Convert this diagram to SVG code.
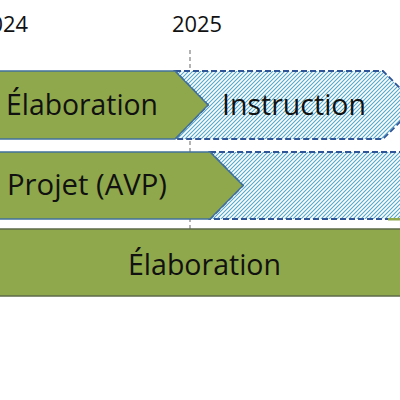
<svg xmlns="http://www.w3.org/2000/svg" width="400" height="400" viewBox="0 0 400 400">
<style>
.lbl{font-family:"Open Sans","Liberation Sans",sans-serif;fill:#111;font-size:29px;}
.yr{font-family:"Open Sans","Liberation Sans",sans-serif;font-size:22px;fill:#111;}
.green{fill:#8FA84B;stroke:#41719C;stroke-width:1.5;}
.hatch{fill:url(#hatch);stroke:#2F5597;stroke-width:1.8;stroke-dasharray:6 3;}
</style>
<defs>
<pattern id="hatch" patternUnits="userSpaceOnUse" width="4" height="4">
<rect width="4" height="4" fill="#ffffff"/>
<path d="M-1,1 l2,-2 M0,4 l4,-4 M3,5 l2,-2" stroke="#4FA9CB" stroke-width="1.1"/>
</pattern>
</defs>
<rect width="400" height="400" fill="#ffffff"/>
<text class="yr" x="-22" y="32" textLength="50" lengthAdjust="spacingAndGlyphs">2024</text>
<text class="yr" x="172" y="32" textLength="50" lengthAdjust="spacingAndGlyphs">2025</text>
<g id="connectors">
<line x1="190" y1="50" x2="190" y2="229" stroke="#808080" stroke-width="1.2" stroke-dasharray="4 3"/>
</g>
<g id="instruction">
<polygon class="hatch" points="175,71 383,71 417,105 383,139 175,139 208,105"/>
<text class="lbl" x="222" y="115" textLength="144" lengthAdjust="spacingAndGlyphs">Instruction</text>
</g>
<g id="elaboration1">
<polygon class="green" points="-5,71 175,71 208,105 175,139 -5,139"/>
<text class="lbl" x="6" y="115" textLength="152" lengthAdjust="spacingAndGlyphs">Élaboration</text>
</g>
<g id="avp-next">
<polygon class="hatch" points="210,152 420,152 420,219 210,219 243,185.5"/>
<polygon points="388,218 400,218 400,220.5 388,220.5" fill="#8FA84B"/>
</g>
<g id="projet">
<polygon class="green" points="-5,152 210,152 243,185.5 210,219 -5,219"/>
<text class="lbl" x="7" y="195" textLength="160" lengthAdjust="spacingAndGlyphs">Projet (AVP)</text>
</g>
<g id="elaboration2">
<rect x="-5" y="229" width="410" height="67" fill="#8FA84B" stroke="#5E6B48" stroke-width="1.5"/>
<text class="lbl" x="128" y="275" textLength="153" lengthAdjust="spacingAndGlyphs">Élaboration</text>
</g>
</svg>
